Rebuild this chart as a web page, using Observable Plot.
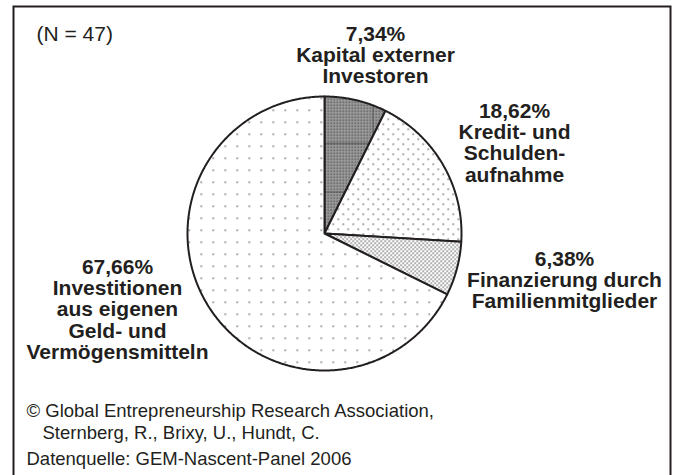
<!DOCTYPE html>
<html><head><meta charset="utf-8">
<script src="https://cdn.jsdelivr.net/npm/d3@7"></script>
<script src="https://cdn.jsdelivr.net/npm/@observablehq/plot@0.6"></script>
<style>
body{margin:0;background:#fff;}
svg{font-family:"Liberation Sans",Arial,Helvetica,sans-serif;}
</style>
</head><body><div id="chart"></div>
<script>
// ---- data ----
const categories = [
  "Kapital externer Investoren",
  "Kredit- und Schuldenaufnahme",
  "Finanzierung durch Familienmitglieder",
  "Investitionen aus eigenen Geld- und Vermögensmitteln"
];
const shares = [7.34, 18.62, 6.38, 67.66];
const shareLabels = ["7,34%", "18,62%", "6,38%", "67,66%"];
const labelLines = [
  "Kapital externer\nInvestoren",
  "Kredit- und\nSchulden-\naufnahme",
  "Finanzierung durch\nFamilienmitglieder",
  "Investitionen\naus eigenen\nGeld- und\nVermögensmitteln"
];
const sampleNote = "(N = 47)";
const footerCopyright = "© Global Entrepreneurship Research Association,";
const footerAuthors = "Sternberg, R., Brixy, U., Hundt, C.";
const footerSource = "Datenquelle: GEM-Nascent-Panel 2006";

// ---- layout (pixels) ----
const W = 676, H = 475;
const cx = 324, cy = 233, R = 137;
const ink = "#231f20";
const patternIds = ["pKap", "pKred", "pFam", "pBig"];
const labelPx = [ {x: 375, b: 40}, {x: 514, b: 117}, {x: 564, b: 265}, {x: 117, b: 273} ];
const labelFont = 21, labelLH = 1.02;

// slice geometry from shares (clockwise from 12 o'clock)
const total = d3.sum(shares);
const pts = [];
let acc = 0;
shares.forEach((v, i) => {
  const a0 = acc / total * 2 * Math.PI;
  acc += v;
  const a1 = acc / total * 2 * Math.PI;
  const n = Math.max(2, Math.ceil((a1 - a0) / (Math.PI / 360)));
  pts.push({slice: i, x: 0, y: 0});
  for (let k = 0; k <= n; k++) {
    const a = a0 + (a1 - a0) * k / n;
    pts.push({slice: i, x: Math.sin(a), y: Math.cos(a)});
  }
});

const labelData = categories.map((c, i) => ({
  category: c,
  text: shareLabels[i] + "\n" + labelLines[i],
  lx: (labelPx[i].x - cx) / R,
  ly: (cy - (labelPx[i].b - 0.71 * labelLH * labelFont)) / R
}));

const svg = Plot.plot({
  width: W, height: H,
  marginLeft: 13, marginTop: 6, marginRight: 6, marginBottom: -4,
  x: {domain: [-1, 1], range: [cx - R, cx + R], axis: null},
  y: {domain: [-1, 1], range: [cy + R, cy - R], axis: null},
  color: {type: "identity"},
  style: {fontFamily: '"Liberation Sans", Arial, sans-serif', color: ink, background: "#fff"},
  marks: [
    Plot.frame({stroke: ink, strokeWidth: 2}),
    Plot.line(pts, {x: "x", y: "y", z: "slice", fill: d => `url(#${patternIds[d.slice]})`,
      stroke: ink, strokeWidth: 2, strokeLinejoin: "round", curve: "linear-closed"}),
    Plot.text(labelData, {x: "lx", y: "ly", text: "text", fontWeight: "bold", fontSize: labelFont,
      lineHeight: labelLH, lineAnchor: "top", textAnchor: "middle", fill: ink}),
    Plot.text([sampleNote], {frameAnchor: "top-left", dx: 23, dy: 40 - 6 - 0.71 * 21, fontSize: 21,
      lineAnchor: "top", textAnchor: "start", fill: ink}),
    Plot.text([footerCopyright], {frameAnchor: "top-left", dx: 13, dy: 416 - 6 - 0.71 * 18.5, fontSize: 18.5,
      lineAnchor: "top", textAnchor: "start", fill: ink}),
    Plot.text([footerAuthors], {frameAnchor: "top-left", dx: 29, dy: 438 - 6 - 0.71 * 18.5, fontSize: 18.5,
      lineAnchor: "top", textAnchor: "start", fill: ink}),
    Plot.text([footerSource], {frameAnchor: "top-left", dx: 13, dy: 464 - 6 - 0.71 * 18.5, fontSize: 18.5,
      lineAnchor: "top", textAnchor: "start", fill: ink})
  ]
});

// ---- fill patterns ----
const defs = d3.select(svg).insert("defs", ":first-child");
function pat(id, w, h, x, y) {
  return defs.append("pattern").attr("id", id).attr("patternUnits", "userSpaceOnUse")
    .attr("width", w).attr("height", h).attr("x", x).attr("y", y);
}
let p;
// big slice: sparse dots
p = pat("pBig", 12, 12, 8, 1);
p.append("rect").attr("width", 12).attr("height", 12).attr("fill", "#fff");
p.append("rect").attr("width", 1.4).attr("height", 1.4).attr("fill", "#555");
// credit: staggered sparse dots
p = pat("pKred", 10, 10, 2, 3);
p.append("rect").attr("width", 10).attr("height", 10).attr("fill", "#fff");
p.append("rect").attr("x", 0).attr("y", 0).attr("width", 1.4).attr("height", 1.4).attr("fill", "#555");
p.append("rect").attr("x", 5).attr("y", 5).attr("width", 1.4).attr("height", 1.4).attr("fill", "#555");
// family: dense stipple
p = pat("pFam", 4, 4, 0, 0);
p.append("rect").attr("width", 4).attr("height", 4).attr("fill", "#fff");
p.append("rect").attr("x", 0).attr("y", 0).attr("width", 1.3).attr("height", 1.3).attr("fill", "#444");
p.append("rect").attr("x", 2).attr("y", 2).attr("width", 1.3).attr("height", 1.3).attr("fill", "#444");
// capital: dark fine stipple + brick lines
p = pat("pFine", 3, 3, 0, 0);
p.append("rect").attr("width", 3).attr("height", 3).attr("fill", "#a0a0a0");
p.append("rect").attr("width", 1.5).attr("height", 1.5).attr("fill", "#4a4a4a");
p = pat("pKap", 96, 96, 372, 95);
p.append("rect").attr("width", 96).attr("height", 96).attr("fill", "url(#pFine)");
p.append("line").attr("x1", 0).attr("x2", 96).attr("y1", 0.4).attr("y2", 0.4).attr("stroke", "#333").attr("stroke-width", 0.8);
p.append("line").attr("x1", 0).attr("x2", 96).attr("y1", 48).attr("y2", 48).attr("stroke", "#333").attr("stroke-width", 0.8);
p.append("line").attr("x1", 0.4).attr("x2", 0.4).attr("y1", 0).attr("y2", 48).attr("stroke", "#333").attr("stroke-width", 0.8);
p.append("line").attr("x1", 48).attr("x2", 48).attr("y1", 48).attr("y2", 96).attr("stroke", "#333").attr("stroke-width", 0.8);

document.getElementById("chart").appendChild(svg);
</script>
</body></html>
